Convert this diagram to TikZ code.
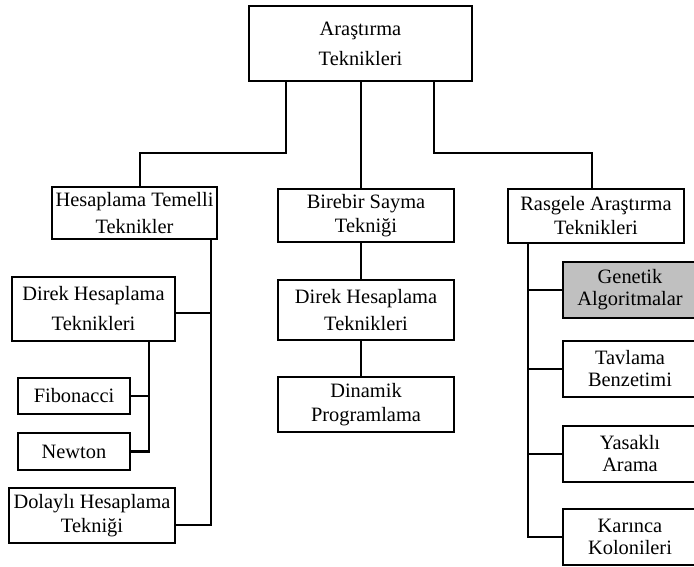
\documentclass[tikz,border=0pt]{standalone}
\usepackage{fontspec}
\setmainfont{Liberation Serif}
\definecolor{boxgray}{RGB}{192,192,192}
\begin{document}
\begin{tikzpicture}[x=1pt,y=-1pt,
  box/.style={draw=black, line width=2.2pt, fill=white, inner sep=0pt,
              align=center, minimum width=#1},
  sk/.style={font=\fontsize{20.4}{#1}\selectfont},
  link/.style={draw=black, line width=2.2pt, line join=miter, line cap=rect}]
\clip (0,0) rectangle (694,567);
\useasboundingbox (0,0) rectangle (694,567);

% connectors first, boxes drawn on top
% junction points
\coordinate (jl) at (286,153);
\coordinate (tl) at (140,153);
\coordinate (jr) at (434,153);
\coordinate (tr) at (592,153);
\coordinate (mx) at (361,0);
\coordinate (lbus) at (211,525);
\coordinate (lj1) at (211,313);
\coordinate (sbus) at (149,451.5);
\coordinate (rbus) at (528,537);

% root
\node[box=223pt, minimum height=75pt, sk=30] (root) at (360.5,43.5) {Araştırma\\Teknikleri};

% second level
\node[box=165pt, minimum height=52pt, sk=27] (ht) at (134.5,213) {Hesaplama Temelli\\Teknikler};
\node[box=176pt, minimum height=53pt, sk=24] (bb) at (366,215.5) {Birebir Sayma\\Tekniği};
\node[box=176pt, minimum height=54pt, sk=24] (ra) at (596,216) {Rasgele Araştırma\\Teknikleri};

% left branch
\node[box=163pt, minimum height=64pt, sk=30] (d1) at (93.5,309) {Direk Hesaplama\\Teknikleri};
\node[box=112pt, minimum height=36pt, sk=24] (fib) at (74,396) {Fibonacci};
\node[box=112pt, minimum height=37pt, sk=24] (nw) at (74,451.5) {Newton};
\node[box=166pt, minimum height=55pt, sk=24] (dh) at (92,515.5) {Dolaylı Hesaplama\\Tekniği};

% middle branch
\node[box=176pt, minimum height=60pt, sk=27] (d2) at (366,310) {Direk Hesaplama\\Teknikleri};
\node[box=176pt, minimum height=55pt, sk=24] (dp) at (366,404.5) {Dinamik\\Programlama};

% right branch
\node[box=134pt, minimum height=56pt, sk=22, fill=boxgray] (ga) at (630,290) {Genetik\\Algoritmalar};
\node[box=134pt, minimum height=56pt, sk=22] (tb) at (630,369) {Tavlama\\Benzetimi};
\node[box=134pt, minimum height=56pt, sk=22] (ya) at (630,454) {Yasaklı\\Arama};
\node[box=134pt, minimum height=56pt, sk=22] (kk) at (630,537) {Karınca\\Kolonileri};

% root to second level
\draw[link] (root.south -| jl) -- (jl) -- (tl) -- (ht.north -| tl);
\draw[link] (root.south -| jr) -- (jr) -- (tr) -- (ra.north -| tr);
\draw[link] (root.south -| mx) -- (bb.north -| mx);

% middle chain
\draw[link] (bb.south -| mx) -- (d2.north -| mx);
\draw[link] (d2.south -| mx) -- (dp.north -| mx);

% left bus
\draw[link] (ht.south -| lbus) -- (lbus) -- (dh.east |- lbus);
\draw[link] (d1.east |- lj1) -- (lj1);
\draw[link] (d1.south -| sbus) -- (sbus) -- (nw.east);
\draw[link] (fib.east) -- (fib.east -| sbus);

% right bus
\draw[link] (ra.south -| rbus) -- (rbus) -- (kk.west);
\draw[link] (ga.west) -- (ga.west -| rbus);
\draw[link] (tb.west) -- (tb.west -| rbus);
\draw[link] (ya.west) -- (ya.west -| rbus);
\end{tikzpicture}
\end{document}
